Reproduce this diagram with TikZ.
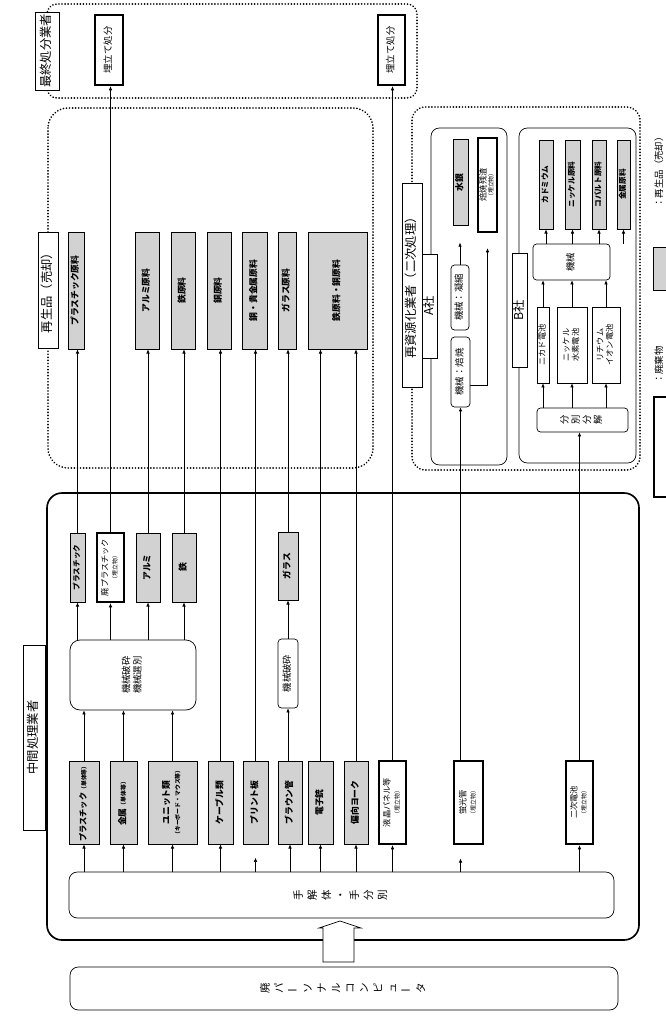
\documentclass[tikz,border=0pt]{standalone}
\usepackage{fontspec}
\setmainfont{Noto Sans CJK JP}
\usepackage{graphicx}
\usetikzlibrary{positioning,arrows.meta}

% text turned a quarter left, as in the scan
\newcommand{\rt}[1]{\rotatebox{90}{\begin{tabular}{@{}c@{}}#1\end{tabular}}}
% long vowel mark of vertical writing
\newcommand{\cho}{\rotatebox{90}{ー}}
\newcommand{\sm}[1]{{\fontsize{5}{6}\selectfont #1}}

\begin{document}
\begin{tikzpicture}[x=0.3mm,y=-0.3mm,
    font=\fontsize{8}{9.5}\selectfont,
    sz/.style 2 args={minimum width=#1*0.3mm, minimum height=#2*0.3mm},
    gbox/.style={draw, fill=gray!35, line width=0.7pt, inner sep=0pt, font=\fontsize{7.5}{9}\selectfont\bfseries},
    wbox/.style={draw, fill=white, line width=2pt, inner sep=0pt, font=\fontsize{7}{8}\selectfont},
    pbox/.style={draw, fill=white, line width=0.6pt, inner sep=0pt, font=\fontsize{7}{8}\selectfont},
    rbox/.style={draw, fill=white, rounded corners=3pt, line width=0.6pt, inner sep=0pt},
    tabbox/.style={draw, fill=white, line width=0.6pt, inner sep=0pt, font=\fontsize{10.5}{12}\selectfont},
    zone/.style={line width=1.6pt, line cap=round, dash pattern=on 0.01pt off 2.6pt},
    arr/.style={-{Latex[length=3.5pt,width=3pt]}, line width=0.5pt},
    ln/.style={line width=0.6pt}
]
\useasboundingbox (0,0) rectangle (665,1016);

% zones
\draw[zone, rounded corners=3mm] (47,4) rectangle (417,98);
\draw[zone, rounded corners=6mm] (48,108) rectangle (373,468);
\draw[zone, rounded corners=4mm] (412,107) rectangle (640,470);
\draw[line width=1.4pt, rounded corners=4.5mm] (47,493) rectangle (639,940);
\draw[ln, rounded corners=2.5mm] (431,128) rectangle (507,465);
\draw[ln, rounded corners=2.5mm] (519,128) rectangle (636,463);

% final disposal
\node[tabbox, sz={24}{78}] (endtab) at (47.5,51) {\rt{最終処分業者}};
\node[wbox, sz={28}{70}, font=\fontsize{8}{9}\selectfont] (umiA) at (109,50) {\rt{埋立て処分}};
\node[wbox, sz={27}{70}, font=\fontsize{8}{9}\selectfont] (umiB) at (391.5,50) {\rt{埋立て処分}};

% recycling
\node[tabbox, sz={20}{116}] (saisei) at (48,290) {\rt{再生品（売却）}};
\node[gbox, sz={16}{117}] (plaR) at (76,290.5) {\rt{プラスチック原料}};
\node[gbox, sz={24}{117}] (aluR) at (147,290.5) {\rt{アルミ原料}};
\node[gbox, sz={24}{117}] (feR) at (183,290.5) {\rt{鉄原料}};
\node[gbox, sz={24}{117}] (cuR) at (219,290.5) {\rt{銅原料}};
\node[gbox, sz={25}{117}] (cupmR) at (254.5,290.5) {\rt{銅・貴金属原料}};
\node[gbox, sz={18}{117}] (glaR) at (287,290.5) {\rt{ガラス原料}};
\node[gbox, sz={59}{117}] (fecuR) at (337.5,290.5) {\rt{鉄原料・銅原料}};

% secondary processing
\node[tabbox, sz={20}{204}] (shigen) at (412,285) {\rt{再資源化業者（二次処理）}};
\node[tabbox, sz={15}{104}] (coA) at (430,306) {\rt{A社}};
\node[gbox, sz={15}{86}] (hg) at (460.5,182.5) {\rt{水銀}};
\node[wbox, sz={19}{94}] (zansa) at (487.5,185) {\rt{焙焼残渣\\[-2pt]\sm{（埋立物）}}};
\node[rbox, sz={18}{65}] (cond) at (460,297.5) {\rt{機械：凝縮}};
\node[rbox, sz={19}{70}] (roast) at (460.5,372) {\rt{機械：焙焼}};
\node[tabbox, sz={14}{114}] (coB) at (520,310) {\rt{B社}};
\node[gbox, sz={14}{89}, font=\fontsize{6.5}{8}\selectfont\bfseries] (cd) at (546,184.5) {\rt{カドミウム}};
\node[gbox, sz={15}{89}, font=\fontsize{6.5}{8}\selectfont\bfseries] (niR) at (572.5,184.5) {\rt{ニッケル原料}};
\node[gbox, sz={14}{89}, font=\fontsize{6.5}{8}\selectfont\bfseries] (coR) at (599,184.5) {\rt{コバルト原料}};
\node[gbox, sz={13}{89}, font=\fontsize{6.5}{8}\selectfont\bfseries] (metR) at (623.5,184.5) {\rt{金属原料}};
\node[rbox, sz={77}{36}] (mach) at (571.5,262) {\rt{機械}};
\node[pbox, sz={12}{76}] (nicd) at (543,345) {\rt{ニカド電池}};
\node[pbox, sz={30}{76}] (nimh) at (572,345) {\rt{ニッケル\\水素電池}};
\node[pbox, sz={28}{76}] (liion) at (606,345) {\rt{リチウム\\イオン電池}};
\node[rbox, sz={91}{24}, font=\fontsize{8}{9.5}\selectfont] (sep) at (582.5,420) {\rt{分\\別\\分\\解}};

% intermediate processing
\node[tabbox, sz={22}{185}] (chukan) at (34,737.5) {\rt{中間処理業者}};
\node[rbox, sz={545}{46}, rounded corners=2.5mm, font=\fontsize{9}{12}\selectfont] (hand) at (341.5,895)
    {\rt{手\\解\\体\\・\\手\\分\\別}};
\node[rbox, sz={548}{43}, rounded corners=2.5mm, font=\fontsize{9}{12}\selectfont] (pc) at (344,988.5)
    {\rt{廃\\パ\\\cho\\ソ\\ナ\\ル\\コ\\ン\\ピ\\ュ\\\cho\\タ}};

\node[gbox, sz={30}{83}, font=\fontsize{7}{8}\selectfont\bfseries] (plaB) at (84,802.5) {\rt{プラスチック\sm{（単体等）}}};
\node[gbox, sz={27}{83}] (metB) at (123.5,802.5) {\rt{金属\sm{（単体等）}}};
\node[gbox, sz={49}{83}] (unit) at (172.5,802.5) {\rt{ユニット類\\\sm{（キーボード・マウス等）}}};
\node[gbox, sz={25}{83}] (cab) at (220.5,802.5) {\rt{ケーブル類}};
\node[gbox, sz={25}{83}] (pcb) at (255.5,802.5) {\rt{プリント板}};
\node[gbox, sz={24}{83}] (crt) at (290,802.5) {\rt{ブラウン管}};
\node[gbox, sz={25}{83}] (gun) at (320.5,802.5) {\rt{電子銃}};
\node[gbox, sz={24}{83}] (yoke) at (356,802.5) {\rt{偏向ヨーク}};
\node[wbox, sz={27}{83}] (lcd) at (392.5,802.5) {\rt{液晶パネル等\\\sm{（埋立物）}}};
\node[wbox, sz={29}{83}] (flu) at (468.5,802.5) {\rt{蛍光管\\\sm{（埋立物）}}};
\node[wbox, sz={27}{83}] (bat) at (579.5,802.5) {\rt{二次電池\\\sm{（埋立物）}}};

\node[rbox, sz={126}{70}, rounded corners=3mm] (mix) at (133,675) {\rt{機械破砕\\機械選別}};
\node[gbox, sz={15}{69}, font=\fontsize{6.5}{8}\selectfont\bfseries] (plaM) at (77.5,567.5) {\rt{プラスチック}};
\node[wbox, sz={27}{69}] (wpla) at (110.5,567.5) {\rt{廃プラスチック\\\sm{（埋立物）}}};
\node[gbox, sz={24}{69}] (alu) at (148,567.5) {\rt{アルミ}};
\node[gbox, sz={24}{69}] (fe) at (184,567.5) {\rt{鉄}};
\node[rbox, sz={20}{69}] (crush) at (288,673.5) {\rt{機械破砕}};
\node[gbox, sz={20}{68}] (glass) at (288,566) {\rt{ガラス}};

% legend, cut by the page edge
\node[gbox, sz={20}{43}, anchor=west] (lgG) at (653,268.5) {};
\node (lgGt) at (660,170) {\rt{：再生品（売却）}};
\node[wbox, sz={22}{100}, anchor=west] (lgW) at (653,447) {};
\node (lgWt) at (660,365) {\rt{：廃棄物}};

% flows to final disposal and second processing
\draw[arr] (wpla.north) -- (wpla.north |- umiA.south);
\draw[arr] (lcd.north) -- (lcd.north |- umiB.south);
\draw[arr] (roast.south |- flu.north) -- (roast.south);
\draw[arr] (bat.north) -- (bat.north |- sep.south);
% flows to recycled goods
\draw[arr] (plaM.north) -- (plaM.north |- plaR.south);
\draw[arr] (alu.north) -- (alu.north |- aluR.south);
\draw[arr] (fe.north) -- (fe.north |- feR.south);
\draw[arr] (cab.north) -- (cab.north |- cuR.south);
\draw[arr] (pcb.north) -- (pcb.north |- cupmR.south);
\draw[arr] (glass.north) -- (glass.north |- glaR.south);
\draw[arr] (gun.north) -- (gun.north |- fecuR.south);
\draw[arr] (yoke.north) -- (yoke.north |- fecuR.south);

% intermediate flows
\foreach \n in {plaB,metB,unit}
    \draw[arr] (\n.north) -- (\n.north |- mix.south);
\foreach \n in {plaM,wpla,alu,fe}
    \draw[arr] (\n.south |- mix.north) -- (\n.south);
\draw[arr] (crt.north -| crush.south) -- (crush.south);
\draw[arr] (crush.north) -- (glass.south);
\foreach \n in {plaB,metB,unit,cab,crt,gun,yoke,lcd,bat}
    \draw[arr] (\n.south |- hand.north) -- (\n.south);
\draw[arr, shorten >=4mm] (pcb.south |- hand.north) -- (pcb.south);
\draw[arr, shorten >=4mm] (roast.south |- hand.north) -- (roast.south |- flu.south);

% A社
\draw[arr, shorten >=5mm] (cond.north) -- (cond.north |- hg.south);
\draw[arr, shorten >=4.5mm] ([yshift=-3.9mm]roast.east) -| (zansa.south);
% B社
\foreach \n in {cd,niR,coR,metR}
    \draw[arr] (\n.south |- mach.north) -- (\n.south);
\foreach \n in {nicd,nimh,liion}
    \draw[arr] (\n.north) -- (\n.north |- mach.south);
\foreach \n in {nicd,nimh,liion}
    \draw[arr] (\n.south |- sep.north) -- (\n.south);

% block arrow from the input to hand sorting
\draw[ln, fill=white] (323,962) -- (323,928) -- (319,928) -- (340,921)
    -- (361,928) -- (354,928) -- (354,962) -- cycle;
\end{tikzpicture}
\end{document}
